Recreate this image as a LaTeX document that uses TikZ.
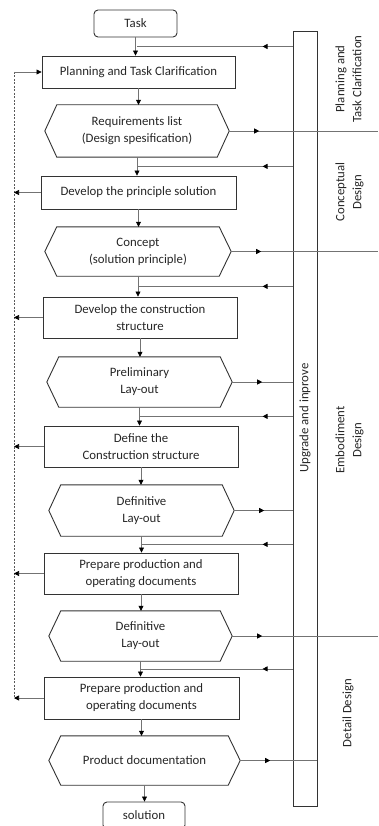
\documentclass[tikz,border=0pt]{standalone}
\usepackage{fontspec}
\setmainfont{Carlito}
\usetikzlibrary{arrows.meta,calc,decorations.markings}
\newcommand\fs{\fontsize{12.8}{17}\selectfont}
\newcommand\drawhex[1]{%
  \coordinate (#1-r) at ([xshift=12pt]#1.east);
  \coordinate (#1-l) at ([xshift=-12pt]#1.west);
  \draw[boxline] (#1.north west) -- (#1.north east) -- (#1-r) -- (#1.south east)
    -- (#1.south west) -- (#1-l) -- cycle;}
\tikzset{
  >={Triangle[length=5pt,width=5pt,color=black]},
  boxline/.style={draw=black!80, line width=0.9pt},
  pbox/.style={boxline, align=center, inner sep=0pt, font=\fs, text=black!85},
  rbox/.style={pbox, rounded corners=4pt},
  hexin/.style={align=center, inner sep=0pt, font=\fs, text=black!85},
  flow/.style={draw=black!55, line width=0.7pt},
  midarr/.style={flow, postaction={decorate},
    decoration={markings, mark=at position 30pt with {\arrow{>}}}},
  dotl/.style={draw=black!65, line width=0.9pt, dash pattern=on 2pt off 1.5pt},
  phase/.style={rotate=90, align=center, font=\fs, text=black!85}
}
\begin{document}
\begin{tikzpicture}[x=1pt, y=-1pt]
\useasboundingbox (0,0) rectangle (378,826);
% main flow nodes
\node[rbox, minimum width=83pt, minimum height=27pt] (task) at (135.5,23.5) {Task};
\node[pbox, minimum width=193pt, minimum height=32pt] (plan) at (138.5,72) {Planning and Task Clarification};
\node[hexin, minimum width=160pt, minimum height=52pt] (req) at (137,131) {Requirements list\\(Design spesification)};
\node[pbox, minimum width=195pt, minimum height=33pt] (dev1) at (138.5,192.5) {Develop the principle solution};
\node[hexin, minimum width=162pt, minimum height=49pt] (con) at (138,251.5) {Concept\\(solution principle)};
\node[pbox, minimum width=194pt, minimum height=41pt] (dev2) at (140,317.5) {Develop the construction\\structure};
\node[hexin, minimum width=161pt, minimum height=50pt] (pre) at (139.5,382) {Preliminary\\Lay-out};
\node[pbox, minimum width=194pt, minimum height=41pt] (def) at (141,446.5) {Define the\\Construction structure};
\node[hexin, minimum width=161pt, minimum height=51pt] (lay1) at (141.5,510.5) {Definitive\\Lay-out};
\node[pbox, minimum width=194pt, minimum height=41pt] (prep1) at (141,573.5) {Prepare production and\\operating documents};
\node[hexin, minimum width=159pt, minimum height=50pt] (lay2) at (140.5,636) {Definitive\\Lay-out};
\node[pbox, minimum width=195pt, minimum height=42pt] (prep2) at (141.5,698) {Prepare production and\\operating documents};
\node[hexin, minimum width=167pt, minimum height=49pt] (prod) at (144.5,760.5) {Product documentation};
\node[rbox, minimum width=82pt, minimum height=27pt] (sol) at (144,815.5) {solution};
\drawhex{req}
\drawhex{con}
\drawhex{pre}
\drawhex{lay1}
\drawhex{lay2}
\drawhex{prod}
% bar
\node[boxline, minimum width=24pt, minimum height=775pt, inner sep=0pt] (bar) at (305,418.5) {};
\node[phase] (upg) at (305,418) {Upgrade and inprove};
% phase labels
\node[phase] (ph1) at (348.5,79) {Planning and\\Task Clarification};
\node[phase] (ph2) at (349.5,192) {Conceptual\\Design};
\node[phase] (ph3) at (349.5,440) {Embodiment\\Design};
\node[phase] (ph4) at (348,713) {Detail Design};
% helper coordinates
\coordinate (edge) at (378,0);
\coordinate (dl) at (14,0);
\coordinate (m1) at ($(task.south)!.5!(plan.north)$);
\coordinate (m2) at ($(req.south)!.5!(dev1.north)$);
\coordinate (m3) at ($(con.south)!.5!(dev2.north)$);
\coordinate (m4) at ($(pre.south)!.5!(def.north)$);
\coordinate (m5) at ($(lay1.south)!.5!(prep1.north)$);
\coordinate (m6) at ($(lay2.south)!.5!(prep2.north)$);
% down arrows
\draw[flow,->] (task.south) -- (task.south |- plan.north);
\draw[flow,->] (plan.south) -- (plan.south |- req.north);
\draw[flow,->] (req.south) -- (req.south |- dev1.north);
\draw[flow,->] (dev1.south) -- (dev1.south |- con.north);
\draw[flow,->] (con.south) -- (con.south |- dev2.north);
\draw[flow,->] (dev2.south) -- (dev2.south |- pre.north);
\draw[flow,->] (pre.south) -- (pre.south |- def.north);
\draw[flow,->] (def.south) -- (def.south |- lay1.north);
\draw[flow,->] (lay1.south) -- (lay1.south |- prep1.north);
\draw[flow,->] (prep1.south) -- (prep1.south |- lay2.north);
\draw[flow,->] (lay2.south) -- (lay2.south |- prep2.north);
\draw[flow,->] (prep2.south) -- (prep2.south |- prod.north);
\draw[flow,->] (prod.south) -- (prod.south |- sol.north);
% feedback arrows from bar
\foreach \m in {m1,m2,m3,m4,m5,m6}{
  \draw[midarr] (bar.west |- \m) -- (\m);
}
% output arrows from hexagons
\draw[midarr] (req-r) -- (req-r -| edge);
\draw[midarr] (con-r) -- (con-r -| edge);
\draw[midarr] (pre-r) -- (pre-r -| bar.west);
\draw[midarr] (lay1-r) -- (lay1-r -| bar.west);
\draw[midarr] (lay2-r) -- (lay2-r -| edge);
\draw[midarr] (prod-r) -- (prod-r -| bar.east);
% dotted return line
\draw[dotl] (dl |- plan.west) -- (dl |- prep2.west);
\draw[flow,->] (dl |- plan.west) -- (plan.west);
\foreach \n in {dev1,dev2,def,prep1,prep2}{
  \draw[flow,->] (\n.west) -- (dl |- \n.west);
}
\end{tikzpicture}
\end{document}
